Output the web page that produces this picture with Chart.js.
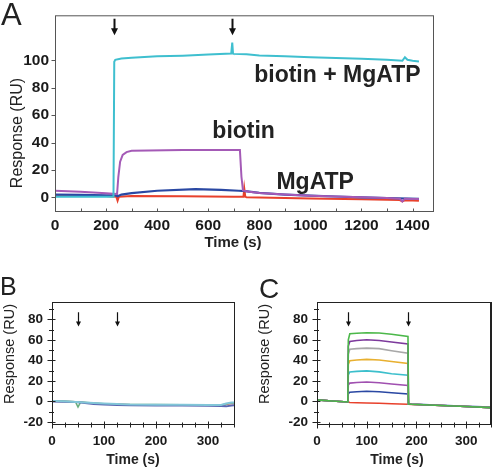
<!DOCTYPE html>
<html>
<head>
<meta charset="utf-8">
<script src="https://cdn.jsdelivr.net/npm/chart.js@4.4.0/dist/chart.umd.min.js"></script>
<style>
body{margin:0;background:#fff}
#wrap{position:relative;width:500px;height:468px;overflow:hidden;background:#fff}
canvas{position:absolute}
</style>
</head>
<body>
<div id="wrap">
<canvas id="ca" width="500" height="260" style="left:0;top:0"></canvas>
<canvas id="cb" width="250" height="198" style="left:0;top:270px"></canvas>
<canvas id="cc" width="250" height="198" style="left:250px;top:270px"></canvas>
</div>
<script>
// panel A : full traces, 4 runs
const t_cyan_a = [0,100,200,229,232,236,260,300,400,500,600,690,694,697,700,750,800,900,1000,1100,1200,1300,1360,1370,1380,1400,1425]
const cyan_a   = [0.5,0.5,0.5,0.5,99,100.5,101.5,102,103,103.5,104.3,105,113,105,104.8,104.5,103.6,103,102.4,101.8,101.2,100.5,99.8,102.4,100.5,99.8,99.3]
const t_purple_a = [0,100,200,243,248,255,265,280,300,500,700,724,730,736,760,800,900,1000,1100,1200,1300,1350,1360,1370,1400,1425]
const purple_a   = [4.8,4,3,2.4,15,26,31,33,34,34.5,34.5,34.5,15,5,4,3.2,2,1.2,0.6,0,-0.5,-1,-3,-1,-1.2,-1.2]
const t_blue_a = [0,100,200,235,245,260,300,400,550,650,720,745,800,900,1000,1100,1200,1300,1425]
const blue_a   = [2,1.8,1.5,1.5,0.8,2,3,4.8,6,5.5,4.8,4.5,3.2,2,1.2,0.6,0,-0.5,-1.2]
const t_red_a = [0,100,200,240,245,250,300,500,700,738,741,745,750,800,1000,1200,1350,1360,1370,1400,1425]
const red_a   = [1,1,1,0.5,-2.5,0.5,1,0.8,0.5,0.5,6.5,0.5,0,-0.2,-0.8,-1.5,-2,-3,-2.2,-2.4,-2.6]
const inject_a = [231, 694]
const notes_a = ['biotin + MgATP', 'biotin', 'MgATP']

// panel B : no binding
const t_b = [0,20,45,50,55,80,100,125,150,200,250,300,325,335,345,350]
const cyan_b  = [0.5,0.3,-0.5,-0.5,-0.7,-1.5,-2,-2.6,-3,-3.2,-3.3,-3.4,-3.5,-2,-1,-1]
const blue_b  = [0,-0.2,-0.6,-0.8,-1,-2.5,-3,-3.5,-3.8,-4,-4,-4.1,-4.5,-4.8,-4,-3.8]
const green_b = [0.6,0.4,-0.3,-5.5,-0.6,-1.5,-2.3,-2.8,-3,-3.1,-3.2,-3.3,-3.4,-2.5,-1.5,-1.5]
const red_b   = [0.2,0,-0.4,-0.6,-0.8,-1.8,-2.4,-2.2,-3.2,-3.4,-3.5,-3.6,-3.8,-3,-2,-2]
const inject_b = [50, 125]

// panel C : concentration series
const t_c = [0,30,62,63,66,80,100,125,150,183,184,190,250,300,350]
const green_c  = [1.5,0.5,-0.5,60,66,66.5,67,66.8,65.5,63.5,-2.5,-2.8,-4,-5,-6]
const violet_c = [1.5,0.5,-0.5,54,58.5,59.5,60.2,59.5,58,56,-2.5,-2.8,-4,-5,-6]
const gray_c   = [1.5,0.5,-0.5,46,51,51.5,52,51.5,49.5,47,-2.5,-2.8,-4,-5,-6]
const orange_c = [1.5,0.5,-0.5,36,39.7,40.5,41,40.5,39,37,-2.5,-2.8,-4,-5,-6]
const cyan_c   = [1.5,0.5,-0.5,26,28.8,29.3,29.8,28.8,27,25.5,-2.5,-2.8,-4,-5,-6]
const purple_c = [1.5,0.5,-0.5,16,17.9,18.5,18.9,18.3,17,15.6,-2.5,-2.8,-4,-5,-6]
const blue_c   = [1.5,0.5,-0.5,7.5,9,9.5,10,9.5,8.5,7.3,-2.2,-2.5,-3.7,-4.8,-5.5]
const red_c    = [1.5,0.5,-0.5,-0.6,-1,-1.2,-1.5,-1.8,-2.2,-2.8,-2.8,-3,-4,-5,-6]
const inject_c = [62.5, 183.5]

const font_family = '"Liberation Sans", Arial, Helvetica, sans-serif'

function pts(xs, ys){ return xs.map((x,i) => ({x: x, y: ys[i]})) }

function line_set(xs, ys, color, width){
  return {data: pts(xs, ys), borderColor: color, borderWidth: width, pointRadius: 0, tension: 0, fill: false}
}

function seg(ctx, x1, y1, x2, y2){
  ctx.beginPath(); ctx.moveTo(x1, y1); ctx.lineTo(x2, y2); ctx.stroke()
}

function panel_plugin(cfg){
  return {
    id: 'panel_' + cfg.letter,
    afterDatasetsDraw(chart){
      const ctx = chart.ctx, a = chart.chartArea, sx = chart.scales.x, sy = chart.scales.y
      ctx.save()
      ctx.strokeStyle = cfg.axis_color
      ctx.lineWidth = 1
      ctx.strokeRect(a.left + .5, a.top + .5, a.right - a.left, a.bottom - a.top)
      if (cfg.right_edge) { ctx.lineWidth = cfg.right_edge; seg(ctx, a.right, a.top, a.right, a.bottom + 1); ctx.lineWidth = 1 }
      for (const t of sy.ticks){
        const p = Math.round(sy.getPixelForValue(t.value)) + .5
        const [o, i] = t.value % cfg.y_major === 0 ? cfg.y_tick[0] : cfg.y_tick[1]
        seg(ctx, a.left + .5 - o, p, a.left + .5 + i, p)
      }
      for (const t of sx.ticks){
        const p = Math.round(sx.getPixelForValue(t.value)) + .5
        const [o, i] = t.value % cfg.x_major === 0 ? cfg.x_tick[0] : cfg.x_tick[1]
        seg(ctx, p, a.bottom + .5 + o, p, a.bottom + .5 - i)
      }
      // injection arrows
      ctx.strokeStyle = ctx.fillStyle = '#111'
      ctx.lineWidth = cfg.arrow_width
      for (const v of cfg.arrows){
        const px = Math.round(sx.getPixelForValue(v)) + .5
        const top = sy.getPixelForValue(cfg.arrow_span[0]), bot = sy.getPixelForValue(cfg.arrow_span[1])
        const h = cfg.arrow_head
        seg(ctx, px, top, px, bot - h + 1)
        ctx.beginPath(); ctx.moveTo(px - h * .5, bot - h); ctx.lineTo(px + h * .5, bot - h); ctx.lineTo(px, bot); ctx.closePath(); ctx.fill()
      }
      // trace labels
      ctx.fillStyle = '#222'
      ctx.textAlign = 'left'; ctx.textBaseline = 'alphabetic'
      for (const n of cfg.notes){
        ctx.font = 'bold ' + n.size + 'px ' + font_family
        ctx.fillText(n.text, sx.getPixelForValue(n.x), sy.getPixelForValue(n.y))
      }
      // panel letter
      ctx.font = cfg.letter_size + 'px ' + font_family
      ctx.fillText(cfg.letter, cfg.letter_at[0], cfg.letter_at[1])
      // axis titles
      ctx.textAlign = 'center'; ctx.textBaseline = 'middle'
      ctx.font = 'bold ' + cfg.xtitle_size + 'px ' + font_family
      ctx.fillText('Time (s)', cfg.xtitle_at[0], cfg.xtitle_at[1])
      ctx.translate(cfg.ytitle_at[0], cfg.ytitle_at[1])
      ctx.rotate(-Math.PI / 2)
      ctx.font = cfg.ytitle_size + 'px ' + font_family
      ctx.fillText('Response (RU)', 0, 0)
      ctx.restore()
    }
  }
}

function make_chart(id, datasets, sc, cfg){
  return new Chart(document.getElementById(id), {
    type: 'line',
    data: {datasets: datasets},
    options: {
      responsive: false,
      animation: false,
      events: [],
      layout: {padding: sc.padding},
      plugins: {legend: {display: false}, tooltip: {enabled: false}},
      scales: {
        x: {
          type: 'linear', min: sc.x_min, max: sc.x_max,
          afterFit: s => { s.height = sc.x_height },
          grid: {display: false, drawTicks: false},
          border: {display: false},
          ticks: {stepSize: sc.x_step, autoSkip: false, maxRotation: 0, includeBounds: false, padding: sc.x_pad, color: '#1a1a1a',
                  font: {family: font_family, size: sc.tick_size, weight: 'bold'},
                  callback: v => v % cfg.x_major === 0 ? v : ''}
        },
        y: {
          type: 'linear', min: sc.y_min, max: sc.y_max,
          afterFit: s => { s.width = sc.y_width },
          afterBuildTicks: s => { s.ticks = s.ticks.filter(t => t.value <= sc.y_top_tick) },
          grid: {display: false, drawTicks: false},
          border: {display: false},
          ticks: {stepSize: sc.y_step, autoSkip: false, includeBounds: false, padding: sc.y_pad, color: '#1a1a1a',
                  font: {family: font_family, size: sc.tick_size, weight: 'bold'},
                  callback: v => v % cfg.y_major === 0 ? v : ''}
        }
      }
    },
    plugins: [panel_plugin(cfg)]
  })
}

make_chart('ca', [
  line_set(t_cyan_a, cyan_a, '#3fbfcf', 2),
  line_set(t_purple_a, purple_a, '#a45ab6', 2),
  line_set(t_blue_a, blue_a, '#2a48a3', 2.2),
  line_set(t_red_a, red_a, '#e8412c', 2)
], {
  padding: {left: 0, top: 9, right: 67, bottom: 0},
  x_min: 0, x_max: 1480, x_step: 100, x_height: 49, x_pad: 5,
  y_min: -10, y_max: 133, y_step: 20, y_width: 55, y_pad: 6, y_top_tick: 100,
  tick_size: 15.5
}, {
  letter: 'A', letter_size: 31, letter_at: [1, 25],
  axis_color: '#555', x_major: 200, y_major: 20,
  y_tick: [[4, 0], [4, 0]], x_tick: [[0, 3], [0, 3]],
  arrows: inject_a, arrow_span: [130.5, 118.5], arrow_width: 2, arrow_head: 7,
  notes: [
    {text: notes_a[0], x: 780, y: 84, size: 23},
    {text: notes_a[1], x: 616, y: 43, size: 23},
    {text: notes_a[2], x: 867, y: 6.2, size: 23}
  ],
  xtitle_at: [233, 243], xtitle_size: 15,
  ytitle_at: [18, 133], ytitle_size: 16
})

make_chart('cb', [
  line_set(t_b, cyan_b, '#82c6d8', 2),
  line_set(t_b, blue_b, '#5a66b0', 2),
  line_set(t_b, green_b, '#6cb080', 1.6),
  line_set(t_b, red_b, '#e07060', 1.5)
], {
  padding: {left: 0, top: 32, right: 16, bottom: 0},
  x_min: 0, x_max: 350, x_step: 25, x_height: 44, x_pad: 9,
  y_min: -22, y_max: 97, y_step: 10, y_width: 52, y_pad: 9, y_top_tick: 90,
  tick_size: 13.5
}, {
  letter: 'B', letter_size: 25, letter_at: [0, 25],
  axis_color: '#222', x_major: 100, y_major: 20,
  y_tick: [[5, 3], [3.5, 1.5]], x_tick: [[4, 3], [3, 2]],
  arrows: inject_b, arrow_span: [87, 73], arrow_width: 1.2, arrow_head: 5,
  notes: [],
  xtitle_at: [133, 190], xtitle_size: 14,
  ytitle_at: [10, 84], ytitle_size: 14.5
})

make_chart('cc', [
  line_set(t_c, green_c, '#4cb84a', 1.6),
  line_set(t_c, violet_c, '#7d3a9c', 1.6),
  line_set(t_c, gray_c, '#a8a8a8', 1.6),
  line_set(t_c, orange_c, '#e8b030', 1.6),
  line_set(t_c, cyan_c, '#3cbfcc', 1.6),
  line_set(t_c, purple_c, '#a050b0', 1.6),
  line_set(t_c, blue_c, '#2a48a3', 1.6),
  line_set(t_c, red_c, '#e8412c', 1.6)
], {
  padding: {left: 0, top: 32, right: 1, bottom: 0},
  x_min: 0, x_max: 350, x_step: 25, x_height: 44, x_pad: 9,
  y_min: -22, y_max: 97, y_step: 10, y_width: 67, y_pad: 9, y_top_tick: 90,
  tick_size: 13.5
}, {
  letter: 'C', letter_size: 28, letter_at: [9, 28],
  axis_color: '#222', x_major: 100, y_major: 20, right_edge: 2,
  y_tick: [[5, 3], [3.5, 1.5]], x_tick: [[4, 3], [3, 2]],
  arrows: inject_c, arrow_span: [87, 73], arrow_width: 1.2, arrow_head: 5,
  notes: [],
  xtitle_at: [147, 190], xtitle_size: 14,
  ytitle_at: [15, 84], ytitle_size: 14.5
})
</script>
</body>
</html>
